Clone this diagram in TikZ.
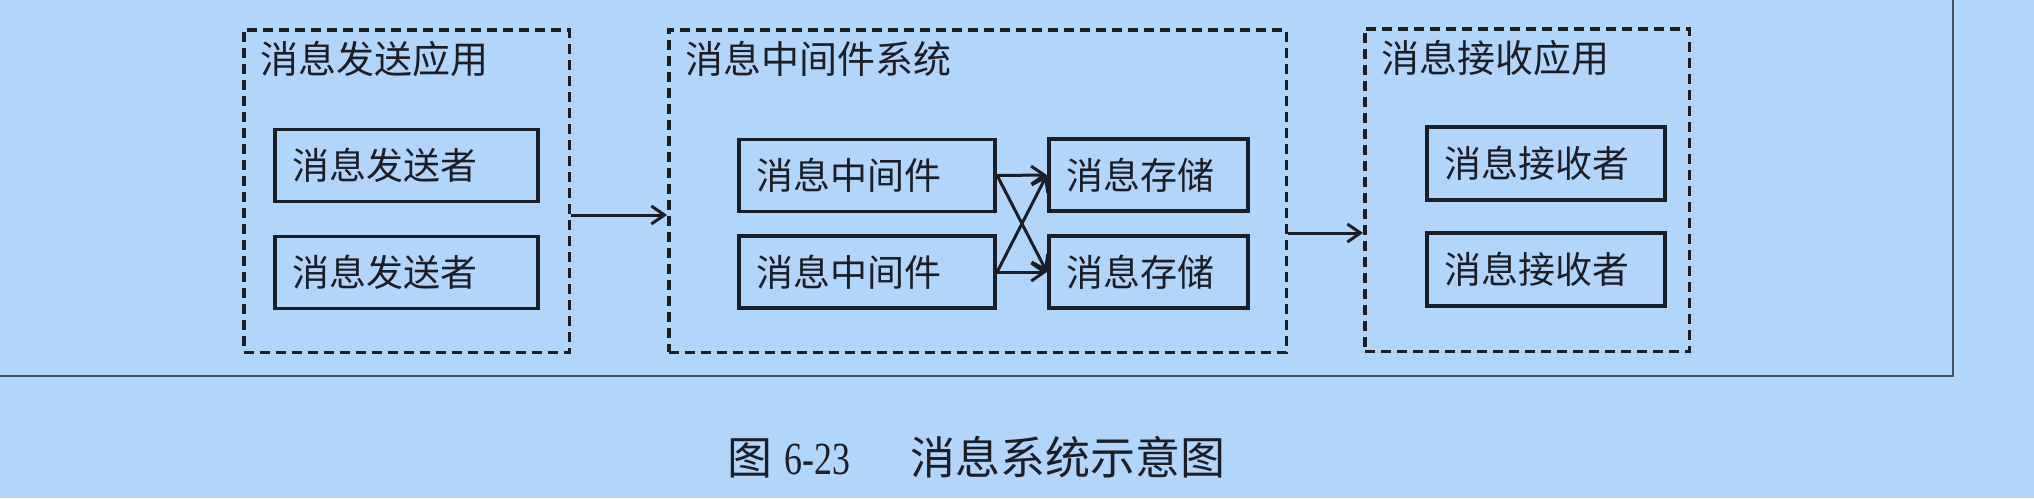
\documentclass[tikz,border=0pt]{standalone}
\usepackage{fontspec}
\newfontfamily\cjk{Noto Sans CJK SC}
\newfontfamily\serifrm[FakeStretch=0.78]{Liberation Serif}
\usetikzlibrary{arrows.meta,calc}
\definecolor{bgc}{RGB}{178,213,250}
\definecolor{inkc}{RGB}{28,30,38}
\definecolor{framec}{RGB}{70,80,100}
\begin{document}
\begin{tikzpicture}[x=1pt,y=-1pt,
  groupbox/.style={draw=inkc, line width=3.5pt, dash pattern=on 10pt off 6pt, minimum width=#1, minimum height=322.5pt, inner sep=0pt},
  grouptitle/.style={anchor=west, inner sep=0pt, text=inkc, font=\cjk\fontsize{38}{40}\selectfont},
  itembox/.style={draw=inkc, line width=3.8pt, minimum height=72pt, text width=#1, inner xsep=18pt, inner ysep=0pt, align=left, text=inkc, font=\cjk\fontsize{37}{40}\selectfont},
  flow/.style={draw=inkc, line width=3pt, -{Straight Barb[length=13pt,width=18pt]}},
]
\fill[bgc] (0,0) rectangle (2034,498);
\useasboundingbox (0,0) rectangle (2034,498);
\draw[framec, line width=2pt] (-5,376) -- (1953,376) -- (1953,-5);

% groups
\node[groupbox=325.5pt] (A) at (406.5,191) {};
\node[groupbox=617.5pt] (B) at (977.5,191) {};
\node[groupbox=324.5pt] (C) at (1527,190) {};
\node[grouptitle] (At) at ($(A.north west)+(18,31)$) {消息发送应用};
\node[grouptitle] (Bt) at ($(B.north west)+(18,31)$) {消息中间件系统};
\node[grouptitle] (Ct) at ($(C.north west)+(18,31)$) {消息接收应用};

% items
\node[itembox=227.5pt] (s1) at (406.5,165.5) {消息发送者};
\node[itembox=227.5pt] (s2) at (406.5,272.5) {消息发送者};
\node[itembox=220.5pt] (m1) at (867,175.5) {消息中间件};
\node[itembox=220.5pt] (m2) at (867,272) {消息中间件};
\node[itembox=163.5pt] (t1) at (1148.5,175) {消息存储};
\node[itembox=163.5pt] (t2) at (1148.5,272) {消息存储};
\node[itembox=202.5pt, minimum height=73.5pt] (r1) at (1546,163.5) {消息接收者};
\node[itembox=202.5pt, minimum height=73.5pt] (r2) at (1546,269.5) {消息接收者};

% connectors
\draw[flow] (A.east |- 0,215) -- (B.west |- 0,215);
\draw[flow] (B.east |- 0,233) -- (C.west |- 0,233);
\draw[flow] (m1.east) -- (t1.west);
\draw[flow] (m1.east) -- (t2.west);
\draw[flow] (m2.east) -- (t1.west);
\draw[flow] (m2.east) -- (t2.west);

% caption
\node[anchor=west, inner sep=0pt, text=inkc] (cap) at (727,457)
  {\cjk\fontsize{45}{50}\selectfont 图\hspace{12pt}{\serifrm\fontsize{46}{50}\selectfont 6-23}\hspace{61pt}消息系统示意图};
\end{tikzpicture}
\end{document}
